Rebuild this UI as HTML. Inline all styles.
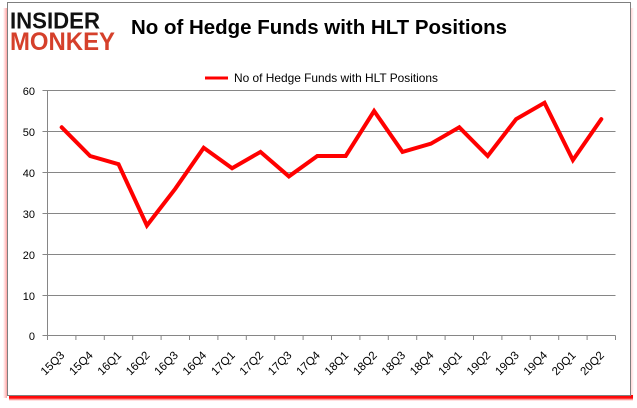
<!DOCTYPE html>
<html>
<head>
<meta charset="utf-8">
<style>
html,body{margin:0;padding:0;background:#fff;}
body{width:637px;height:408px;overflow:hidden;position:relative;}
.frame{position:absolute;left:7px;top:2px;width:622px;height:392px;border:1px solid #7f7f7f;background:#fff;}
.shb{position:absolute;left:9px;top:395px;width:624px;height:6px;
background:linear-gradient(to bottom,rgba(255,0,0,1) 0%,rgba(255,0,0,0.95) 50%,rgba(255,60,60,0.4) 80%,rgba(255,255,255,0) 100%);}
.shl{position:absolute;left:3px;top:8px;width:4px;height:390px;
background:linear-gradient(to right,rgba(255,255,255,0) 0%,rgba(255,150,150,0.5) 60%,rgba(255,120,120,0.7) 100%);}
.shr{position:absolute;left:631px;top:8px;width:3px;height:390px;
background:linear-gradient(to right,rgba(255,170,170,0.5) 0%,rgba(255,255,255,0) 100%);}
svg{position:absolute;left:0;top:0;}
text{font-family:"Liberation Sans",Arial,sans-serif;}
</style>
</head>
<body>
<div class="shl"></div>
<div class="shr"></div>
<div class="shb"></div>
<div class="frame"></div>
<svg width="637" height="408" viewBox="0 0 637 408">
  <!-- logo -->
  <text x="10" y="28.5" font-size="23.5" font-weight="bold" fill="#111" textLength="90" lengthAdjust="spacingAndGlyphs">INSIDER</text>
  <text x="10" y="50" font-size="25" font-weight="bold" fill="#d5402b" textLength="105" lengthAdjust="spacingAndGlyphs">MONKEY</text>
  <!-- title -->
  <text x="131" y="34" font-size="20" font-weight="bold" fill="#000" textLength="376" lengthAdjust="spacingAndGlyphs">No of Hedge Funds with HLT Positions</text>
  <!-- legend -->
  <line x1="205" y1="78" x2="228" y2="78" stroke="#ff0000" stroke-width="3"/>
  <text x="234" y="82" font-size="11.8" fill="#000" textLength="204" lengthAdjust="spacingAndGlyphs">No of Hedge Funds with HLT Positions</text>
  <!-- gridlines -->
  <g stroke="#868686" stroke-width="1" fill="none">
    <line x1="42.5" y1="90.5" x2="615.5" y2="90.5"/>
    <line x1="42.5" y1="131.5" x2="615.5" y2="131.5"/>
    <line x1="42.5" y1="172.5" x2="615.5" y2="172.5"/>
    <line x1="42.5" y1="213.5" x2="615.5" y2="213.5"/>
    <line x1="42.5" y1="254.5" x2="615.5" y2="254.5"/>
    <line x1="42.5" y1="295.5" x2="615.5" y2="295.5"/>
    <line x1="42.5" y1="335.5" x2="615.5" y2="335.5"/>
    <line x1="47.5" y1="90.5" x2="47.5" y2="340"/>
    <line x1="75.9" y1="335.5" x2="75.9" y2="340"/>
    <line x1="104.3" y1="335.5" x2="104.3" y2="340"/>
    <line x1="132.7" y1="335.5" x2="132.7" y2="340"/>
    <line x1="161.1" y1="335.5" x2="161.1" y2="340"/>
    <line x1="189.5" y1="335.5" x2="189.5" y2="340"/>
    <line x1="217.9" y1="335.5" x2="217.9" y2="340"/>
    <line x1="246.3" y1="335.5" x2="246.3" y2="340"/>
    <line x1="274.7" y1="335.5" x2="274.7" y2="340"/>
    <line x1="303.1" y1="335.5" x2="303.1" y2="340"/>
    <line x1="331.5" y1="335.5" x2="331.5" y2="340"/>
    <line x1="359.9" y1="335.5" x2="359.9" y2="340"/>
    <line x1="388.3" y1="335.5" x2="388.3" y2="340"/>
    <line x1="416.7" y1="335.5" x2="416.7" y2="340"/>
    <line x1="445.1" y1="335.5" x2="445.1" y2="340"/>
    <line x1="473.5" y1="335.5" x2="473.5" y2="340"/>
    <line x1="501.9" y1="335.5" x2="501.9" y2="340"/>
    <line x1="530.3" y1="335.5" x2="530.3" y2="340"/>
    <line x1="558.7" y1="335.5" x2="558.7" y2="340"/>
    <line x1="587.1" y1="335.5" x2="587.1" y2="340"/>
    <line x1="615.5" y1="335.5" x2="615.5" y2="340"/>
  </g>
  <!-- y labels -->
  <g font-size="11" fill="#000" text-anchor="end">
    <text x="35" y="95">60</text>
    <text x="35" y="136">50</text>
    <text x="35" y="177">40</text>
    <text x="35" y="218">30</text>
    <text x="35" y="259">20</text>
    <text x="35" y="300">10</text>
    <text x="35" y="340">0</text>
  </g>
  <!-- x labels -->
  <g font-size="11.5" fill="#000" text-anchor="end">
    <text transform="translate(65.2,356) rotate(-45)">15Q3</text>
    <text transform="translate(93.6,356) rotate(-45)">15Q4</text>
    <text transform="translate(122,356) rotate(-45)">16Q1</text>
    <text transform="translate(150.4,356) rotate(-45)">16Q2</text>
    <text transform="translate(178.8,356) rotate(-45)">16Q3</text>
    <text transform="translate(207.2,356) rotate(-45)">16Q4</text>
    <text transform="translate(235.6,356) rotate(-45)">17Q1</text>
    <text transform="translate(264,356) rotate(-45)">17Q2</text>
    <text transform="translate(292.4,356) rotate(-45)">17Q3</text>
    <text transform="translate(320.8,356) rotate(-45)">17Q4</text>
    <text transform="translate(349.2,356) rotate(-45)">18Q1</text>
    <text transform="translate(377.6,356) rotate(-45)">18Q2</text>
    <text transform="translate(406,356) rotate(-45)">18Q3</text>
    <text transform="translate(434.4,356) rotate(-45)">18Q4</text>
    <text transform="translate(462.8,356) rotate(-45)">19Q1</text>
    <text transform="translate(491.2,356) rotate(-45)">19Q2</text>
    <text transform="translate(519.6,356) rotate(-45)">19Q3</text>
    <text transform="translate(548,356) rotate(-45)">19Q4</text>
    <text transform="translate(576.4,356) rotate(-45)">20Q1</text>
    <text transform="translate(604.8,356) rotate(-45)">20Q2</text>
  </g>
  <!-- series -->
  <polyline fill="none" stroke="#ff0000" stroke-width="4" stroke-linejoin="miter" stroke-miterlimit="3" stroke-linecap="round"
    points="61.7,127.3 90.1,156.0 118.5,164.2 146.9,225.5 175.3,188.7 203.7,147.8 232.1,168.2 260.5,151.9 288.9,176.4 317.3,156.0 345.7,156.0 374.1,111.0 402.5,151.9 430.9,143.7 459.3,127.3 487.7,156.0 516.1,119.1 544.5,102.8 572.9,160.1 601.3,119.1"/>
</svg>
</body>
</html>
